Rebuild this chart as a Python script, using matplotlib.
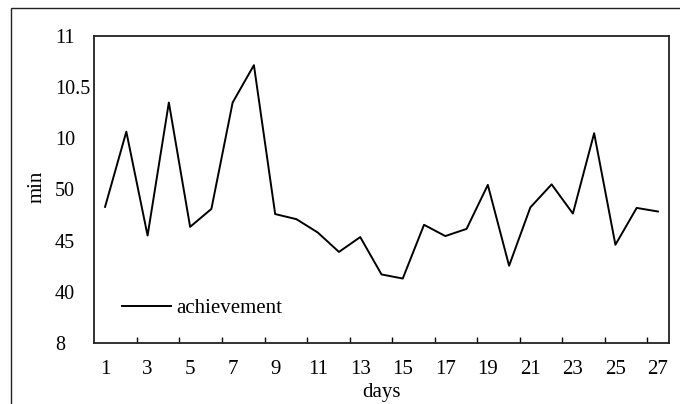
import matplotlib

matplotlib.use("Agg")

import matplotlib.pyplot as plt
from matplotlib.patches import Rectangle

# y values are given in tick-slot units (0 = bottom label, 6 = top label)
days = list(range(1, 28))
achievement = [2.66, 4.13, 2.10, 4.70, 2.27, 2.62, 4.70, 5.43, 2.52, 2.42,
               2.16, 1.78, 2.07, 1.34, 1.26, 2.31, 2.09, 2.23, 3.09, 1.51,
               2.65, 3.10, 2.53, 4.10, 1.92, 2.64, 2.57]
y_tick_labels = ["8", "40", "45", "50", "10", "10.5", "11"]
x_tick_labels = [str(d) for d in range(1, 28, 2)]
x_minor_ticks = [d + 0.5 for d in range(2, 27, 2)]

plt.rcParams["font.family"] = ["Liberation Serif", "DejaVu Serif"]

fig = plt.figure(figsize=(6.8, 4.04), dpi=100)
fig.patch.set_facecolor("white")

# outer frame (runs off the right and bottom edges)
fig.patches.append(
    Rectangle((11 / 680, -0.2), 1.2, 1.2 - 8 / 404,
              transform=fig.transFigure, fill=False,
              edgecolor="#222222", linewidth=1.0)
)

ax = fig.add_axes([94 / 680, 1 - 343 / 404, 575 / 680, 307 / 404])
ax.plot(days, achievement, color="black", linewidth=1.4, label="achievement")

ax.set_xlim(0.48, 27.52)
ax.set_ylim(0, 6)

ax.set_xticks(range(1, 28, 2))
ax.set_xticklabels(x_tick_labels)
ax.set_xticks(x_minor_ticks, minor=True)
ax.tick_params(axis="x", which="major", length=0, pad=12, labelsize=15)
ax.tick_params(axis="x", which="minor", direction="in", length=4, width=1.0)

ax.set_yticks(range(len(y_tick_labels)))
ax.set_yticklabels(y_tick_labels, ha="left")
ax.tick_params(axis="y", which="major", length=0, pad=28, labelsize=14.5)
ax.set_yticks([1, 2, 3, 4, 5], minor=True)
ax.tick_params(axis="y", which="minor", direction="in", length=4, width=1.0,
               left=False, right=True)

for side in ax.spines.values():
    side.set_linewidth(1.3)
    side.set_color("#222222")

ax.set_xlabel("days", fontsize=15, va="center")
ax.xaxis.set_label_coords(0.5, -0.16)
ax.set_ylabel("min", fontsize=15, va="center")
ax.yaxis.set_label_coords(-0.099, 0.51)

ax.legend(loc="center left", bbox_to_anchor=(0.035, 0.114), frameon=False,
          fontsize=15, handlelength=2.35, handletextpad=0.25, borderaxespad=0)

fig.savefig("out.png", dpi=100)
